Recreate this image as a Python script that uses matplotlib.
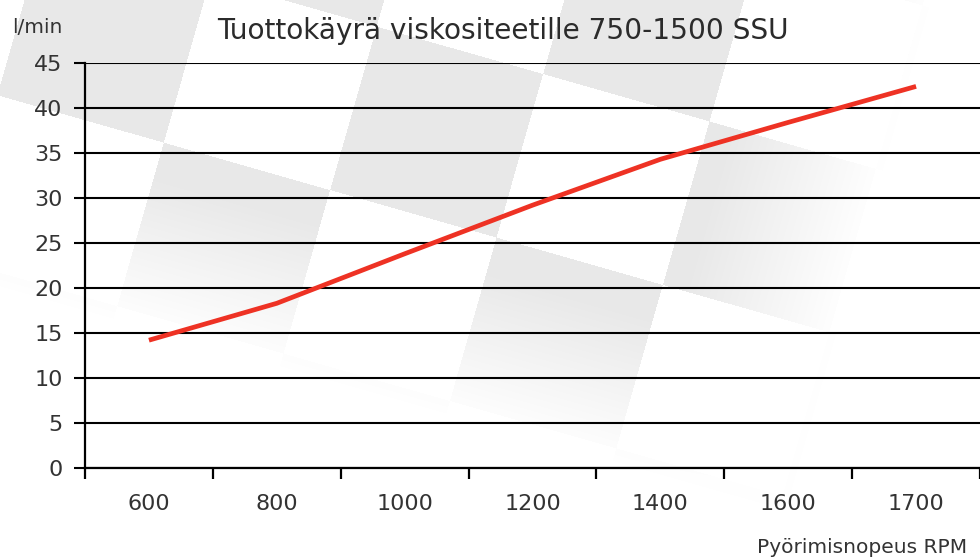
import numpy as np
import matplotlib
matplotlib.use("Agg")
import matplotlib.pyplot as plt

plt.rcParams["font.family"] = "DejaVu Sans"
plt.rcParams["axes.unicode_minus"] = False

# data
rpm_labels = ["600", "800", "1000", "1200", "1400", "1600", "1700"]
flow = [14.2, 18.3, 23.8, 29.2, 34.3, 38.4, 42.4]
y_ticks = [0, 5, 10, 15, 20, 25, 30, 35, 40, 45]

W, H, DPI = 980, 558, 100
fig = plt.figure(figsize=(W / DPI, H / DPI), dpi=DPI, facecolor="white")

# faint tilted checkerboard in the background, fading out low and to the right
yy, xx = np.mgrid[0:H, 0:W].astype(float)
th = np.arctan(0.285)
u = xx * np.cos(th) + yy * np.sin(th)
v = -xx * np.sin(th) + yy * np.cos(th)
ci = np.floor((u - 23) / 173)
ri = np.floor((v + 78) / 170)
checker = ((ci + ri) % 2 == 0).astype(float)
fade = np.clip((275 - v) / 150, 0, 1) * np.clip((895 - u) / 160, 0, 1)
shade = 1.0 - (23 / 255) * checker * fade
bg = np.dstack([shade, shade, shade])
fig.figimage(bg, xo=0, yo=0, origin="upper", zorder=0)

# axes placed so the plot runs off the right edge like the original
left = 85 / W
bottom = (H - 468) / H
top = (H - 63) / H
ax = fig.add_axes([left, bottom, 1 - left, top - bottom])
ax.set_zorder(2)
ax.set_facecolor("none")

band = 129.0
pos = np.arange(len(rpm_labels))
ax.plot(pos, flow, color="#ee3224", lw=3.4, solid_capstyle="butt", zorder=3)

ax.set_xlim(-0.5, -0.5 + (W - 85) / band)
ax.set_ylim(0, 45)

ax.set_xticks(np.arange(-0.5, len(rpm_labels), 1.0))
ax.set_xticklabels([])
ax.set_xticks(pos, minor=True)
ax.set_xticklabels(rpm_labels, minor=True)
ax.tick_params(axis="x", which="major", length=8, width=1.6, color="black", direction="out")
ax.tick_params(axis="x", which="minor", length=0, pad=18.5, labelsize=16, labelcolor="#333333")

ax.set_yticks(y_ticks)
ax.tick_params(axis="y", length=8, width=1.5, pad=8, labelsize=16, labelcolor="#333333")
ax.yaxis.grid(True, color="black", lw=1.5)
ax.set_axisbelow(True)

for s in ["top", "right"]:
    ax.spines[s].set_visible(False)
ax.spines["left"].set_linewidth(1.6)
ax.spines["bottom"].set_linewidth(1.6)

fig.text(503 / W, 1 - 39 / H, "Tuottokäyrä viskositeetille 750-1500 SSU",
         ha="center", va="baseline", fontsize=20.2, color="#2b2b2b")
fig.text(62 / W, 1 - 33 / H, "l/min", ha="right", va="baseline", fontsize=14.5, color="#333333")
fig.text(757 / W, 1 - 553 / H, "Pyörimisnopeus RPM", ha="left", va="baseline",
         fontsize=14.5, color="#333333")

fig.savefig("out.png", dpi=DPI)
